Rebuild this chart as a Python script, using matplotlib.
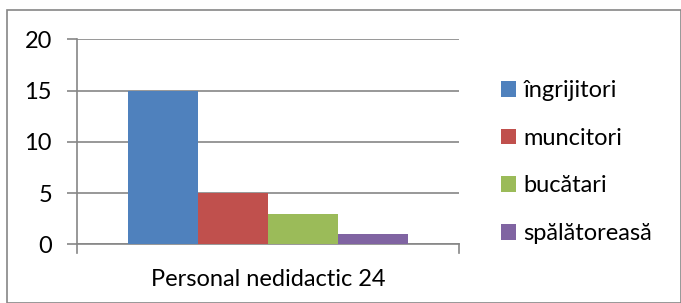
import matplotlib
matplotlib.use("Agg")
import matplotlib.pyplot as plt
from matplotlib.patches import Rectangle
import numpy as np

categories = ["Personal nedidactic 24"]
series_names = ["îngrijitori", "muncitori", "bucătari", "spălătoreasă"]
series_values = [15, 5, 3, 1]
colors = ["#4F81BD", "#C0504D", "#9BBB59", "#8064A2"]
yticks = [0, 5, 10, 15, 20]

plt.rcParams['font.family'] = ['Lato', 'DejaVu Sans']
W, H = 681, 303
fig = plt.figure(figsize=(W/100, H/100), dpi=100)

FS = 17

# axes placement in pixels
x0, x1 = 77, 459
y0, y1 = 244.3, 39.3
ax = fig.add_axes([x0/W, 1 - y0/H, (x1-x0)/W, (y0-y1)/H])

n = len(series_names)
bw = 0.733 / n
for i, (name, v, c) in enumerate(zip(series_names, series_values, colors)):
    xpos = -0.733/2 + bw*(i+0.5)
    ax.bar(xpos, v, width=bw, color=c, label=name, zorder=3)

ax.set_xlim(-0.5, 0.5)
ax.set_ylim(0, 20)
ax.set_yticks(yticks)
ax.set_yticklabels([str(t) for t in yticks], fontsize=FS)
ax.yaxis.grid(True, color="#868686", linewidth=1.2, zorder=0)
ax.set_xticks([0])
ax.set_xticklabels(categories, fontsize=FS)
ax.tick_params(axis='x', length=0, pad=18)
ax.tick_params(axis='y', length=7, color="#868686", width=1.2, pad=11)
for s in ["top", "right"]:
    ax.spines[s].set_visible(False)
for s in ["left", "bottom"]:
    ax.spines[s].set_color("#868686")
    ax.spines[s].set_linewidth(1.2)
# category boundary ticks on x axis
ax.plot([-0.5, -0.5], [0, -0.85], color="#868686", lw=1.2, clip_on=False, zorder=4)
ax.plot([0.5, 0.5], [0, -0.85], color="#868686", lw=1.2, clip_on=False, zorder=4)

leg = fig.legend(loc="upper left", bbox_to_anchor=(501/W, 1 - 80/H), frameon=False,
                 fontsize=FS, handlelength=0.65, handleheight=0.65, handletextpad=0.3,
                 labelspacing=1.13, borderaxespad=0, borderpad=0)

# outer border
fig.patches.append(Rectangle((7/W, 0), 1 - 7/W - 0.5/W, 1 - 10/H, transform=fig.transFigure,
                             fill=False, edgecolor="#868686", linewidth=1.2))

fig.savefig("out.png", dpi=100)
